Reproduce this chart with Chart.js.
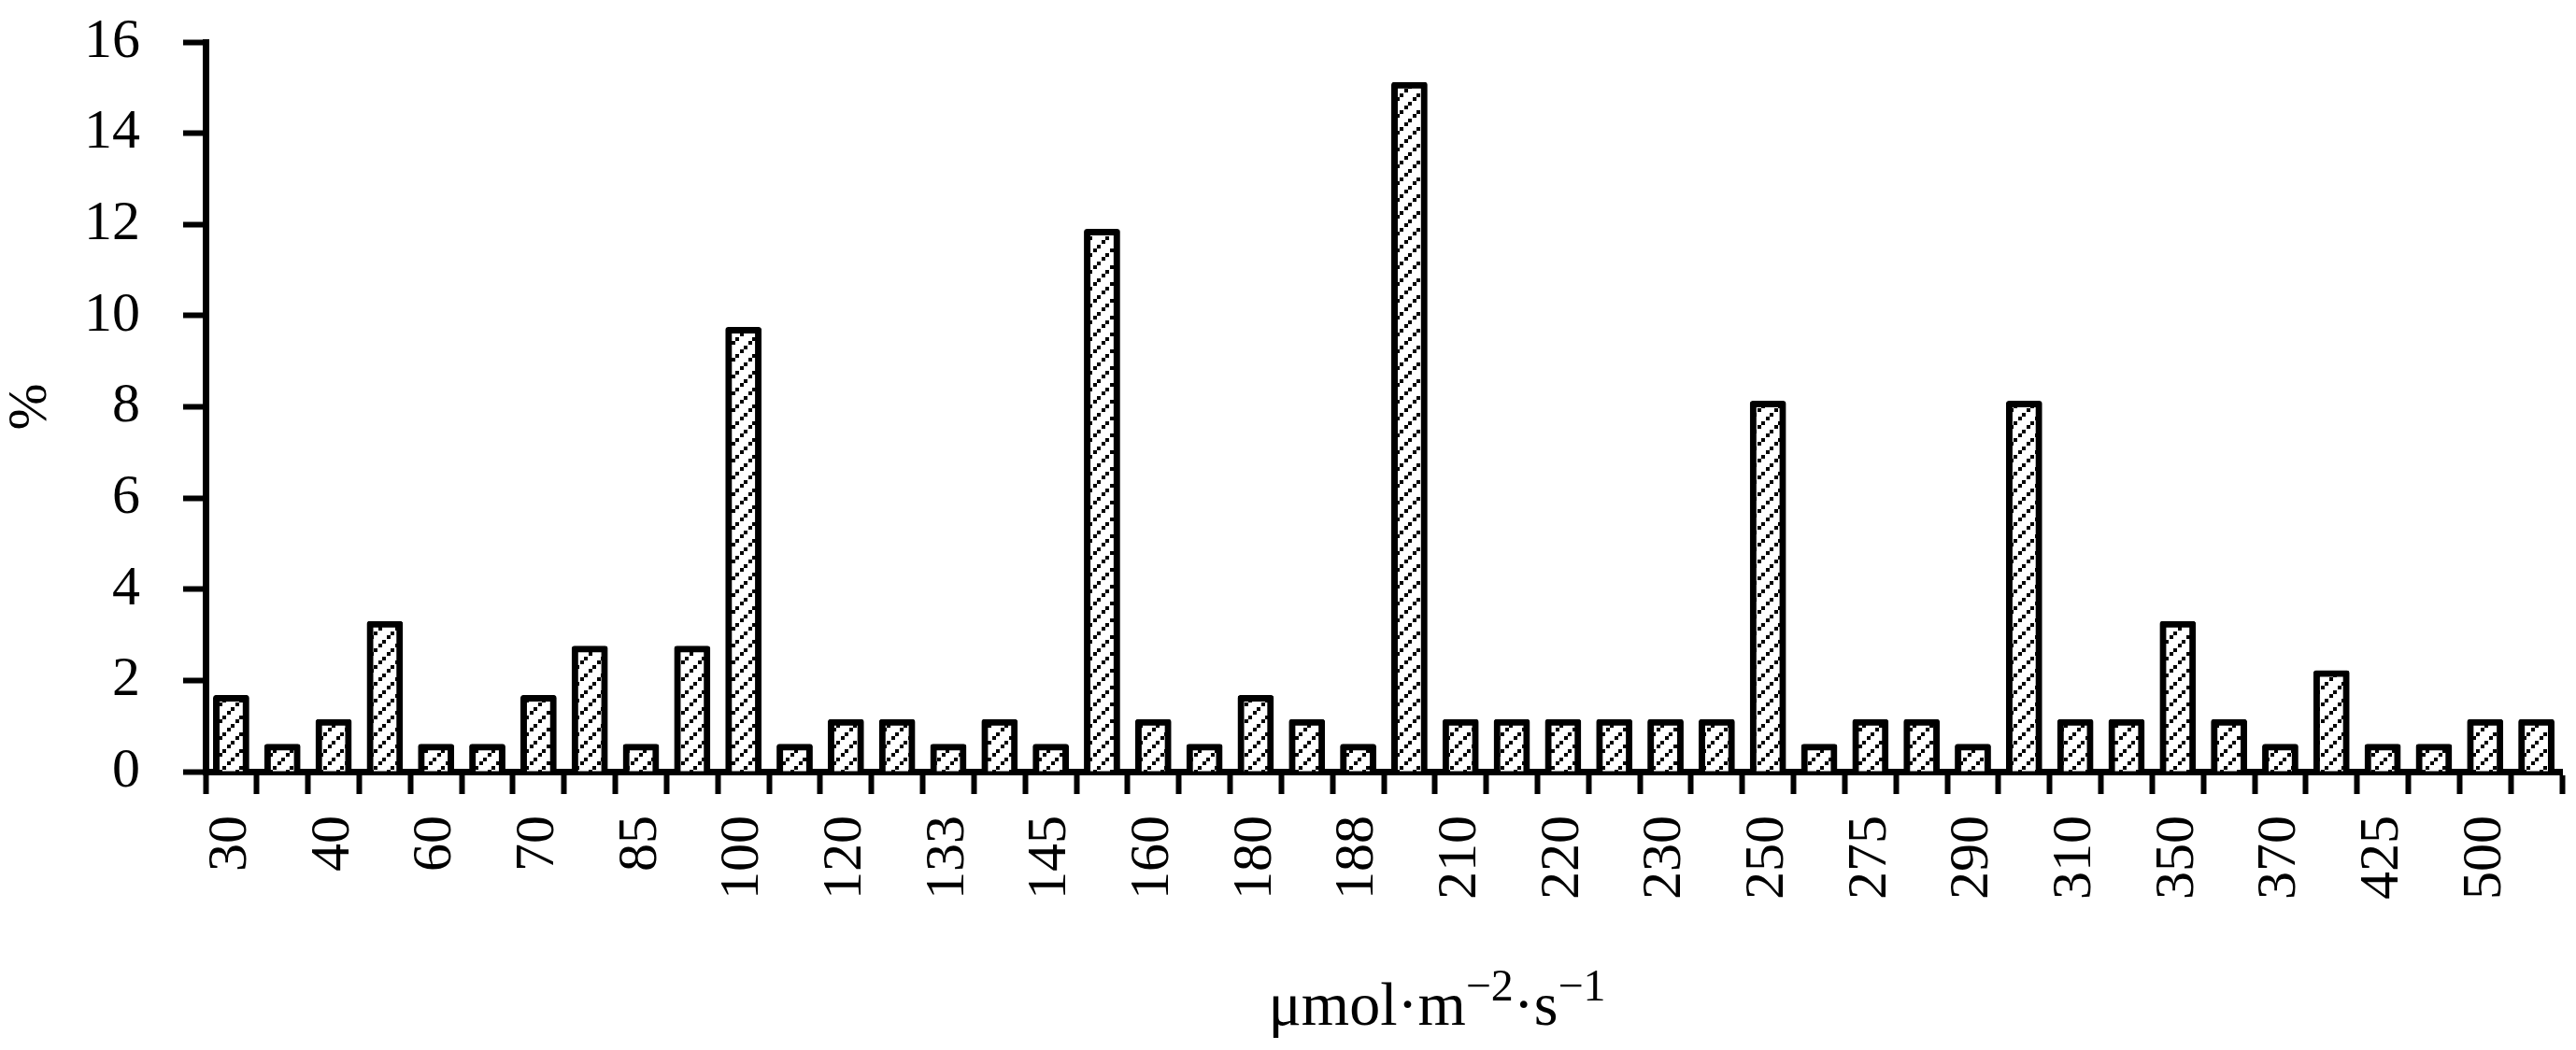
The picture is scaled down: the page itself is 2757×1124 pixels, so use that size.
<!DOCTYPE html>
<html>
<head>
<meta charset="utf-8">
<script src="https://cdn.jsdelivr.net/npm/chart.js@4/dist/chart.umd.min.js"></script>
<style>
  html, body { margin: 0; padding: 0; background: #fff; }
  canvas { display: block; }
</style>
</head>
<body>
<canvas id="chart" width="2757" height="1124"></canvas>
<script>
// Light intensity classes (every second one is not printed on the axis, those are guesses)
const categories = [
  "30", "35", "40", "50", "60", "65", "70", "80", "85", "90",
  "100", "110", "120", "130", "133", "140", "145", "150", "160", "170",
  "180", "185", "188", "200", "210", "215", "220", "225", "230", "240",
  "250", "260", "275", "280", "290", "300", "310", "320", "350", "360",
  "370", "400", "425", "450", "500", "550"
];

// Share of cases, %
const percentValues = [
  1.61, 0.54, 1.08, 3.23, 0.54, 0.54, 1.61, 2.69, 0.54, 2.69,
  9.68, 0.54, 1.08, 1.08, 0.54, 1.08, 0.54, 11.83, 1.08, 0.54,
  1.61, 1.08, 0.54, 15.05, 1.08, 1.08, 1.08, 1.08, 1.08, 1.08,
  8.06, 0.54, 1.08, 1.08, 0.54, 8.06, 1.08, 1.08, 3.23, 1.08,
  0.54, 2.15, 0.54, 0.54, 1.08, 1.08
];

// Y axis ticks
const yTicks = [0, 2, 4, 6, 8, 10, 12, 14, 16];

const FONT = "'Liberation Serif', 'DejaVu Serif', serif";

// Hatch fill: dashed diagonal lines
function makeHatch(ctx) {
  const size = 18;
  const tile = document.createElement("canvas");
  tile.width = size;
  tile.height = size;
  const g = tile.getContext("2d");
  g.fillStyle = "#fff";
  g.fillRect(0, 0, size, size);
  g.fillStyle = "#000";
  g.fillRect(0, 14, 4, 4);
  g.fillRect(4, 10, 4, 4);
  g.fillRect(9, 5, 4, 4);
  g.fillRect(13, 1, 4, 4);
  return ctx.createPattern(tile, "repeat");
}

// X axis title with real superscripts
const xTitlePlugin = {
  id: "xTitle",
  afterDraw(chart) {
    const ctx = chart.ctx;
    const parts = [
      { t: "μmol·m", sup: false },
      { t: "−2", sup: true },
      { t: "·s", sup: false },
      { t: "−1", sup: true },
    ];
    const big = "66px " + FONT;
    const small = "48px " + FONT;
    ctx.save();
    ctx.fillStyle = "#000";
    ctx.textBaseline = "alphabetic";
    let total = 0;
    parts.forEach((p) => {
      ctx.font = p.sup ? small : big;
      p.w = ctx.measureText(p.t).width;
      total += p.w;
    });
    let x = 1538 - total / 2;
    const baseY = 1097;
    parts.forEach((p) => {
      ctx.font = p.sup ? small : big;
      ctx.fillText(p.t, x, p.sup ? baseY - 26 : baseY);
      x += p.w;
    });
    ctx.restore();
  },
};

const canvas = document.getElementById("chart");
const ctx = canvas.getContext("2d");

new Chart(ctx, {
  type: "bar",
  data: {
    labels: categories,
    datasets: [
      {
        label: "%",
        data: percentValues,
        backgroundColor: makeHatch(ctx),
        borderColor: "#000",
        borderWidth: 7,
        borderRadius: 3,
        // border sits centred on the bar edge, like in the original
        inflateAmount: 3.5,
        barPercentage: 0.58,
        categoryPercentage: 1,
      },
    ],
  },
  options: {
    responsive: false,
    devicePixelRatio: 1,
    animation: false,
    layout: { padding: { top: 45, right: 15, bottom: 0, left: 0 } },
    plugins: {
      legend: { display: false },
      tooltip: { enabled: false },
    },
    scales: {
      x: {
        grid: {
          display: true,
          drawOnChartArea: false,
          drawTicks: true,
          tickLength: 24,
          tickWidth: 6,
          color: "#000",
          offset: true,
        },
        border: { display: true, color: "#000", width: 7 },
        ticks: {
          autoSkip: false,
          maxRotation: 90,
          minRotation: 90,
          padding: 23,
          color: "#000",
          font: { family: FONT, size: 60 },
          callback: (value, index) => (index % 2 === 0 ? categories[index] : ""),
        },
        afterFit: (scale) => {
          scale.height = 298;
          scale.paddingLeft = 0;
          scale.paddingRight = 0;
        },
      },
      y: {
        min: yTicks[0],
        max: yTicks[yTicks.length - 1],
        afterBuildTicks: (scale) => {
          scale.ticks = yTicks.map((v) => ({ value: v }));
        },
        grid: {
          display: true,
          drawOnChartArea: false,
          drawTicks: true,
          tickLength: 24,
          tickWidth: 6,
          color: "#000",
        },
        border: { display: true, color: "#000", width: 7 },
        ticks: {
          padding: 46,
          color: "#000",
          font: { family: FONT, size: 60 },
        },
        title: {
          display: true,
          text: "%",
          color: "#000",
          font: { family: FONT, size: 60, lineHeight: 1.1 },
          padding: 0,
        },
        afterFit: (scale) => {
          scale.width = 220;
          scale.paddingTop = 0;
          scale.paddingBottom = 0;
        },
      },
    },
  },
  plugins: [xTitlePlugin],
});
</script>
</body>
</html>
